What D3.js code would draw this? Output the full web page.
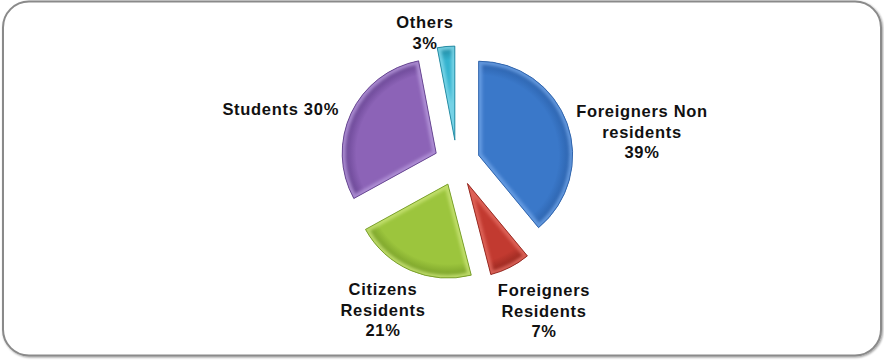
<!DOCTYPE html>
<html>
<head>
<meta charset="utf-8">
<script src="https://cdn.jsdelivr.net/npm/d3@7"></script>
<style>
  html, body { margin: 0; padding: 0; background: #fff; }
  svg { display: block; }
  text { font-family: "Liberation Sans", Arial, sans-serif; font-weight: bold; fill: #111; }
</style>
</head>
<body>
<svg id="chart" width="884" height="360"></svg>
<script>
// Visitor groups, in pie order (clockwise from 12 o'clock)
const categories = ["Foreigners Non residents", "Foreigners Residents", "Citizens Residents", "Students", "Others"];
const shares = [39, 7, 21, 30, 3];
const labelLines = [
  ["Foreigners Non", "residents", "39%"],
  ["Foreigners", "Residents", "7%"],
  ["Citizens", "Residents", "21%"],
  ["Students 30%"],
  ["Others", "3%"]
];
const colors = [
  { base: "#3a78c9", light: "#6a9fe4", dark: "#2a5fa8" },
  { base: "#c23a30", light: "#e2685e", dark: "#90241c" },
  { base: "#9cc53d", light: "#c6e272", dark: "#739a25" },
  { base: "#8c63b7", light: "#b394d8", dark: "#613f8c" },
  { base: "#35b3cf", light: "#80d8ea", dark: "#1f859d" }
];

const svg = d3.select("#chart");
const defs = svg.append("defs");

// Rounded frame with a soft shadow
const shadow = defs.append("filter").attr("id", "frameShadow")
  .attr("x", "-5%").attr("y", "-5%").attr("width", "110%").attr("height", "110%");
shadow.append("feGaussianBlur").attr("in", "SourceAlpha").attr("stdDeviation", 1.2).attr("result", "b");
shadow.append("feOffset").attr("in", "b").attr("dx", 1).attr("dy", 1).attr("result", "o");
shadow.append("feComponentTransfer").attr("in", "o").attr("result", "s")
  .append("feFuncA").attr("type", "linear").attr("slope", 0.4);
const m = shadow.append("feMerge");
m.append("feMergeNode").attr("in", "s");
m.append("feMergeNode").attr("in", "SourceGraphic");

// Soft blur for the slice bevel highlight
defs.append("filter").attr("id", "soft")
  .append("feGaussianBlur").attr("stdDeviation", 1.5);

svg.append("rect")
  .attr("x", 3).attr("y", 1.5).attr("width", 878).attr("height", 354)
  .attr("rx", 26).attr("ry", 26)
  .attr("fill", "#fff").attr("stroke", "#8a8a8a").attr("stroke-width", 2)
  .attr("filter", "url(#frameShadow)");

// Pie geometry
const cx = 457, cy = 163, radius = 94, explode = 23;

const pie = d3.pie().sort(null).value(d => d)(shares);
const arc = d3.arc().innerRadius(0).outerRadius(radius);

const g = svg.append("g").attr("transform", `translate(${cx},${cy})`);

const slices = g.selectAll("g.slice").data(pie).join("g")
  .attr("class", "slice")
  .attr("transform", d => {
    const a = (d.startAngle + d.endAngle) / 2;
    return `translate(${explode * Math.sin(a)},${-explode * Math.cos(a)})`;
  });

slices.each(function(d, i) {
  const c = colors[i];
  const grad = defs.append("radialGradient")
    .attr("id", "grad" + i)
    .attr("gradientUnits", "userSpaceOnUse")
    .attr("cx", 0).attr("cy", 0).attr("r", radius);
  grad.append("stop").attr("offset", "0%").attr("stop-color", c.base);
  grad.append("stop").attr("offset", "85%").attr("stop-color", c.base);
  grad.append("stop").attr("offset", "100%").attr("stop-color", c.dark);

  defs.append("clipPath").attr("id", "clip" + i)
    .append("path").attr("d", arc(d));

  const s = d3.select(this);
  s.append("path").attr("d", arc(d)).attr("fill", `url(#grad${i})`);
  // bevel highlight along the inner edge
  s.append("g").attr("clip-path", `url(#clip${i})`)
    .append("path").attr("d", arc(d))
    .attr("fill", "none")
    .attr("stroke", c.light).attr("stroke-opacity", 0.85)
    .attr("stroke-width", 7)
    .attr("filter", "url(#soft)");
  s.append("path").attr("d", arc(d))
    .attr("fill", "none")
    .attr("stroke", c.dark).attr("stroke-width", 1).attr("stroke-opacity", 0.9);
});

// Labels
const labelPos = [
  { x: 642, y: 117, anchor: "middle" },
  { x: 544, y: 296, anchor: "middle" },
  { x: 383, y: 295, anchor: "middle" },
  { x: 339, y: 115, anchor: "end" },
  { x: 425, y: 28, anchor: "middle" }
];
const lineHeight = 20.5;

labelLines.forEach((lines, i) => {
  const p = labelPos[i];
  const t = svg.append("text")
    .attr("x", p.x).attr("y", p.y)
    .attr("text-anchor", p.anchor)
    .style("font-size", "16.5px")
    .style("letter-spacing", "0.7px");
  lines.forEach((ln, k) => {
    t.append("tspan").attr("x", p.x).attr("dy", k === 0 ? 0 : lineHeight).text(ln);
  });
});
</script>
</body>
</html>
